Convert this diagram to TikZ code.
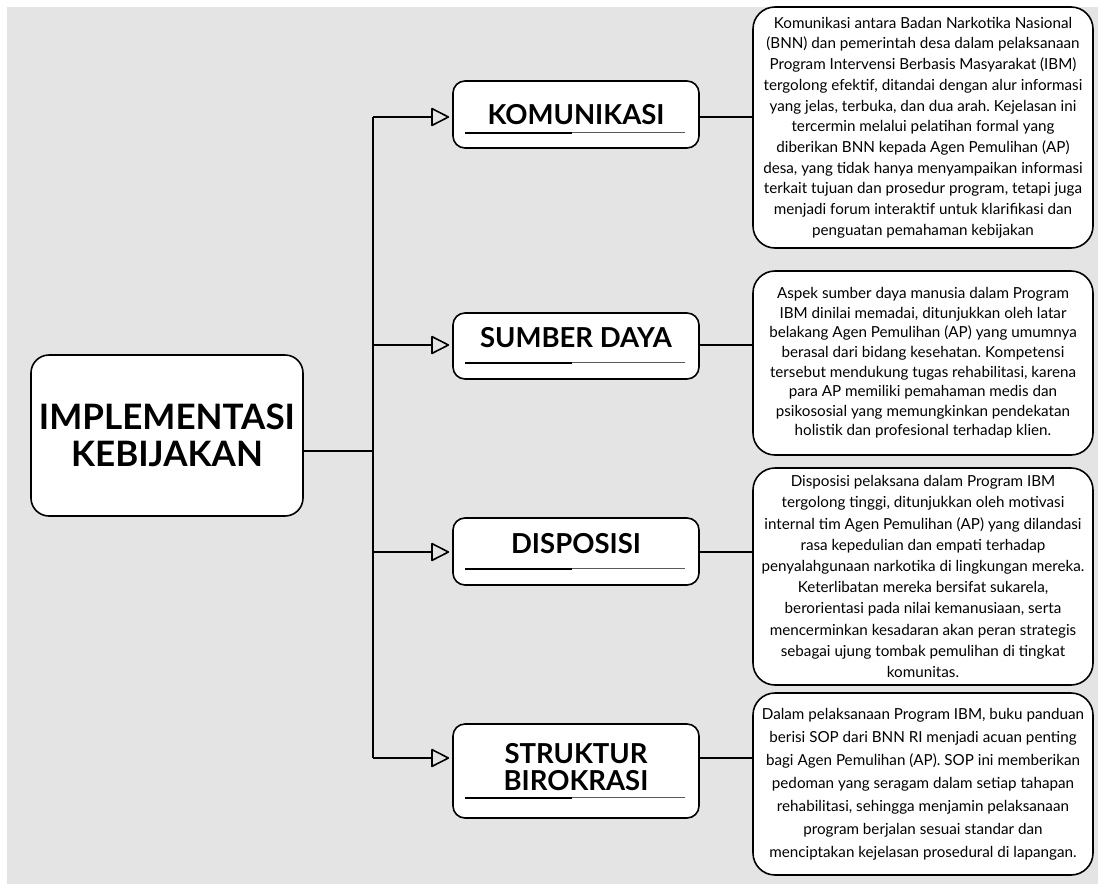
\documentclass[tikz,border=0pt]{standalone}
\usepackage{fontspec}
\setmainfont{Lato}
\usetikzlibrary{arrows.meta}
\definecolor{bggray}{HTML}{E4E4E4}
\frenchspacing
\begin{document}
\begin{tikzpicture}[x=1pt,y=-1pt,
    conn/.style={line width=1.6pt},
    branch/.style={-{Triangle[open,round,length=19pt,width=19pt]},shorten >=3pt},
    mainbox/.style={draw,fill=white,line width=1.6pt,rounded corners=18pt,inner sep=0pt,
      align=center,font=\fontsize{35}{37}\selectfont\bfseries},
    catbox/.style={draw,fill=white,line width=1.6pt,rounded corners=12pt,inner sep=0pt,
      minimum width=246pt,align=center,font=\fontsize{27.5}{27}\selectfont\bfseries},
    descbox/.style={draw,fill=white,line width=1.6pt,rounded corners=22pt,inner sep=0pt,
      minimum width=340pt,align=center}]
  \useasboundingbox (0,0) rectangle (1098,884);
  \fill[bggray] (7,7) rectangle (1098,884);

  % Main node
  \node[mainbox,minimum width=272pt,minimum height=161pt] (impl) at (167,435.5) {IMPLEMENTASI\\KEBIJAKAN};

  % Aspects
  \node[catbox,minimum height=67pt] (kom) at (576,114.5) {KOMUNIKASI};
  \node[catbox,minimum height=66pt] (sumber) at (576,346) {\raisebox{8pt}[\height][\depth]{SUMBER DAYA}};
  \node[catbox,minimum height=67pt] (dispo) at (576,551.5) {\raisebox{8pt}[\height][\depth]{DISPOSISI}};
  \node[catbox,minimum height=94pt] (struktur) at (576,771) {\raisebox{4pt}[\height][\depth]{STRUKTUR}\\\raisebox{4pt}[\height][\depth]{BIROKRASI}};

  % Descriptions
  \node[descbox,minimum height=241pt,font=\fontsize{15.2}{20.7}\selectfont] (dkom) at (923,127.5) {Komunikasi antara Badan Narkotika Nasional\\(BNN) dan pemerintah desa dalam pelaksanaan\\Program Intervensi Berbasis Masyarakat (IBM)\\tergolong efektif, ditandai dengan alur informasi\\yang jelas, terbuka, dan dua arah. Kejelasan ini\\tercermin melalui pelatihan formal yang\\diberikan BNN kepada Agen Pemulihan (AP)\\desa, yang tidak hanya menyampaikan informasi\\terkait tujuan dan prosedur program, tetapi juga\\menjadi forum interaktif untuk klarifikasi dan\\penguatan pemahaman kebijakan};
  \node[descbox,minimum height=184pt,font=\fontsize{15.2}{19.6}\selectfont] (dsumber) at (923,363) {Aspek sumber daya manusia dalam Program\\IBM dinilai memadai, ditunjukkan oleh latar\\belakang Agen Pemulihan (AP) yang umumnya\\berasal dari bidang kesehatan. Kompetensi\\tersebut mendukung tugas rehabilitasi, karena\\para AP memiliki pemahaman medis dan\\psikososial yang memungkinkan pendekatan\\holistik dan profesional terhadap klien.};
  \node[descbox,minimum height=217pt,font=\fontsize{15.2}{21.2}\selectfont] (ddispo) at (923,576.5) {Disposisi pelaksana dalam Program IBM\\tergolong tinggi, ditunjukkan oleh motivasi\\internal tim Agen Pemulihan (AP) yang dilandasi\\rasa kepedulian dan empati terhadap\\penyalahgunaan narkotika di lingkungan mereka.\\Keterlibatan mereka bersifat sukarela,\\berorientasi pada nilai kemanusiaan, serta\\mencerminkan kesadaran akan peran strategis\\sebagai ujung tombak pemulihan di tingkat\\komunitas.};
  \node[descbox,minimum height=182pt,font=\fontsize{15.2}{23}\selectfont] (dstruktur) at (923,784) {Dalam pelaksanaan Program IBM, buku panduan\\berisi SOP dari BNN RI menjadi acuan penting\\bagi Agen Pemulihan (AP). SOP ini memberikan\\pedoman yang seragam dalam setiap tahapan\\rehabilitasi, sehingga menjamin pelaksanaan\\program berjalan sesuai standar dan\\menciptakan kejelasan prosedural di lapangan.};

  % Spine
  \coordinate (hub) at (373,451);
  \coordinate (j1) at (373,117);
  \coordinate (j2) at (373,345);
  \coordinate (j3) at (373,552);
  \coordinate (j4) at (373,758);
  \draw[conn] (j1) -- (j4);
  \draw[conn] (hub -| impl.east) -- (hub);

  % Branches and links
  \foreach \j/\c/\d in {j1/kom/dkom,j2/sumber/dsumber,j3/dispo/ddispo,j4/struktur/dstruktur} {
    \draw[conn,branch] (\j) -- (\j -| \c.west);
    \draw[conn] (\j -| \c.east) -- (\j -| \d.west);
  }

  % Underlines
  \foreach \c/\h in {kom/16,sumber/17,dispo/17,struktur/21} {
    \draw[line width=1.6pt] ([shift={(13,-\h)}]\c.south west) -- ([shift={(120,-\h)}]\c.south west);
    \draw[line width=1pt,black!65] ([shift={(120,-\h)}]\c.south west) -- ([shift={(-15,-\h)}]\c.south east);
  }
\end{tikzpicture}
\end{document}
